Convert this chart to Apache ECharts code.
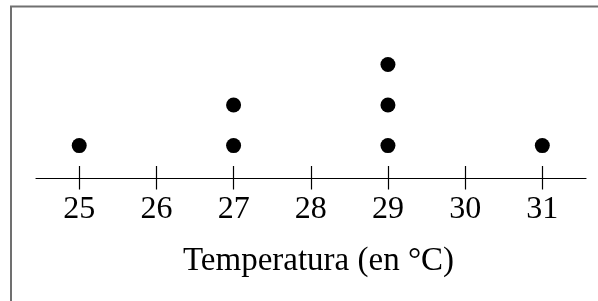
<!DOCTYPE html>
<html>
<head>
<meta charset="utf-8">
<script src="https://cdn.jsdelivr.net/npm/echarts@6/dist/echarts.min.js"></script>
<style>
  html, body { margin: 0; padding: 0; background: #fff; }
  #chart { width: 598px; height: 301px; }
</style>
</head>
<body>
<div id="chart"></div>
<script>
// dot plot: temperatura (°C) y cantidad de puntos
const temperaturas = [25, 27, 29, 31]
const conteos = [1, 2, 3, 1]
const tickMin = 25
const tickMax = 31
const axisTitle = 'Temperatura (en °C)'

const serif = "'Liberation Serif', 'Times New Roman', serif"

// un punto por observación, apilados en niveles 1..n
const puntos = []
temperaturas.forEach((t, i) => {
  for (let k = 1; k <= conteos[i]; k++) puntos.push([t, k])
})

const chart = echarts.init(document.getElementById('chart'), null, { renderer: 'canvas' })

chart.setOption({
  animation: false,
  backgroundColor: '#fff',
  title: {
    text: axisTitle,
    left: 183,
    top: 245,
    padding: 0,
    textStyle: { fontFamily: serif, fontSize: 33, fontWeight: 'normal', color: '#000' },
  },
  grid: [
    // línea del eje + puntos
    { left: 36, right: 12, top: 24, bottom: 123 },
    // marcas y etiquetas
    { left: 79.3, right: 55.7, top: 160, bottom: 135 },
  ],
  xAxis: [
    {
      type: 'value', gridIndex: 0,
      min: 24.44, max: 31.566,
      axisLine: { show: true, onZero: false, lineStyle: { color: '#000', width: 1.2 } },
      axisTick: { show: false },
      axisLabel: { show: false },
      splitLine: { show: false },
    },
    {
      type: 'value', gridIndex: 1,
      min: tickMin, max: tickMax, interval: 1,
      axisLine: { show: false },
      axisTick: { show: true, length: 23.5, lineStyle: { color: '#000', width: 1.2 } },
      axisLabel: {
        margin: 28,
        fontFamily: serif, fontSize: 32, color: '#000',
      },
      splitLine: { show: false },
    },
  ],
  yAxis: [
    { type: 'value', gridIndex: 0, min: 0.2, max: 4, show: false },
    { type: 'value', gridIndex: 1, min: 0, max: 1, show: false },
  ],
  graphic: [
    {
      type: 'rect',
      shape: { x: 11, y: 6.5, width: 620, height: 320 },
      style: { fill: 'none', stroke: '#707070', lineWidth: 2 },
      silent: true,
    },
  ],
  series: [
    {
      type: 'scatter',
      xAxisIndex: 0, yAxisIndex: 0,
      data: puntos,
      symbol: 'circle',
      symbolSize: 15,
      itemStyle: { color: '#000', opacity: 1 },
    },
  ],
})
</script>
</body>
</html>
